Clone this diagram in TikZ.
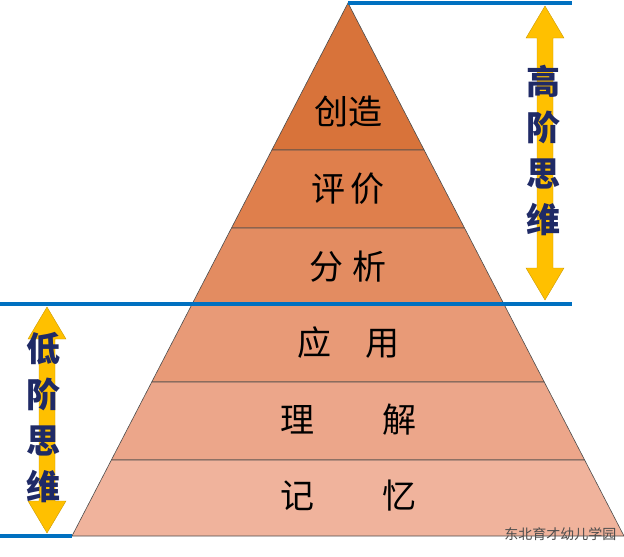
\documentclass[tikz,border=0pt]{standalone}
\usepackage{fontspec}
\newfontfamily\cjk{Noto Sans CJK SC}
\usetikzlibrary{calc}
\definecolor{lineblue}{HTML}{0070C0}
\definecolor{arrowgold}{HTML}{FFC000}
\definecolor{textnavy}{HTML}{1F2A66}
\tikzset{
  layer/.style={draw=black!70, line width=0.6pt},
  layertext/.style={font=\cjk\fontsize{34}{36}\selectfont, text=black},
  bluebar/.style={draw=lineblue, line width=3.5pt},
  sidetext/.style={font=\cjk\bfseries\fontsize{34}{46}\selectfont, text=textnavy, align=center}
}
\newcommand{\dblarrow}[3]{% x, top y, bottom y
  \fill[arrowgold, draw=arrowgold!80!black, line width=0.4pt]
    (#1,#2) -- (#1+19,#2+32) -- (#1+8,#2+32) -- (#1+8,#3-32) -- (#1+19,#3-32)
    -- (#1,#3) -- (#1-19,#3-32) -- (#1-8,#3-32) -- (#1-8,#2+32) -- (#1-19,#2+32) -- cycle;}
\begin{document}
\begin{tikzpicture}[x=1pt,y=-1pt]
  \useasboundingbox (0,0) rectangle (624,557);
  \coordinate (apex) at (348,3);
  \coordinate (bl) at (72,536);
  \coordinate (br) at (624,536);

  % layers of the pyramid
  \foreach \ta/\tb/\col/\nm in {0/0.2758/D8733A/create,0.2758/0.4221/DF7F4C/judge,
      0.4221/0.5666/E38C61/analyse,0.5666/0.7111/E89A77/apply,
      0.7111/0.8574/ECA68A/grasp,0.8574/1/F0B39C/remember}{
    \definecolor{c\nm}{HTML}{\col}
    \filldraw[layer, fill=c\nm]
      ($(apex)!\ta!(bl)$) -- ($(apex)!\tb!(bl)$) -- ($(apex)!\tb!(br)$) -- ($(apex)!\ta!(br)$) -- cycle;
  }

  % labels
  \node[layertext] (create) at (348,112) {创造};
  \node[layertext] (judge) at (348,189) {评\,价};
  \node[layertext] (analyse) at (348,267) {分\;析};
  \node[layertext] (apply) at (348,343) {应\quad 用};
  \node[layertext] (grasp) at (348,420) {理\qquad 解};
  \node[layertext] (remember) at (348,496) {记\qquad 忆};

  % blue levels
  \draw[bluebar] (apex) -- (572,3);
  \draw[bluebar] (0,304) -- (572,304);
  \draw[bluebar] (0,536) -- (bl);

  % side arrows and texts
  \dblarrow{545}{6}{300}
  \dblarrow{47}{307}{533}
  \node[sidetext] (high) at (543,150) {高\\阶\\思\\维};
  \node[sidetext] (low) at (44,418) {低\\阶\\思\\维};

  \node[font=\cjk\fontsize{14}{16}\selectfont, text=black!70, anchor=east] (mark) at (620,534) {东北育才幼儿学园};
\end{tikzpicture}
\end{document}
